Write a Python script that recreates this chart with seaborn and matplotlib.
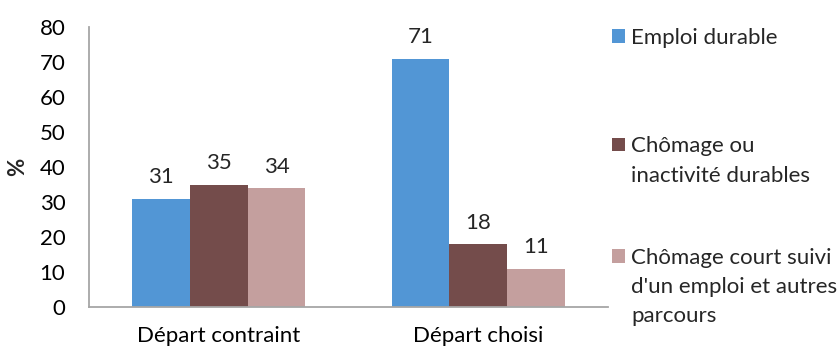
import matplotlib
matplotlib.use("Agg")
import matplotlib.pyplot as plt
from matplotlib.patches import Patch
import pandas as pd
import seaborn as sns

# Categories and series
categories = ["Départ contraint", "Départ choisi"]
series = [
    "Emploi durable",
    "Chômage ou inactivité durables",
    "Chômage court suivi d'un emploi et autres parcours",
]
emploi_durable = [31, 71]
chomage_durable = [35, 18]
chomage_court = [34, 11]
y_ticks = [0, 10, 20, 30, 40, 50, 60, 70, 80]

# Legend labels as wrapped lines
legend_lines = [
    ["Emploi durable"],
    ["Chômage ou", "inactivité durables"],
    ["Chômage court suivi", "d'un emploi et autres", "parcours"],
]
colors = ["#5296D5", "#744C4B", "#C49F9E"]

df = pd.DataFrame({
    "depart": categories * 3,
    "parcours": [s for s in series for _ in categories],
    "pct": emploi_durable + chomage_durable + chomage_court,
})

sns.set_style("white")
plt.rcParams["font.family"] = ["Lato", "DejaVu Sans"]
FS = 16

W, H = 840, 347
fig = plt.figure(figsize=(W / 100, H / 100), dpi=100)
ax = fig.add_axes([89 / W, 40 / H, 519 / W, 280 / H])

sns.barplot(
    data=df, x="depart", y="pct", hue="parcours", hue_order=series,
    palette=colors, width=0.667, saturation=1, linewidth=0,
    errorbar=None, legend=False, ax=ax,
)

ax.set_xlim(-0.5, 1.5)
ax.set_ylim(0, 80)
ax.set_yticks(y_ticks)
ax.tick_params(axis="both", length=0, labelsize=FS, colors="black")
ax.tick_params(axis="y", pad=17)
ax.tick_params(axis="x", pad=13.5)
for side in ("top", "right"):
    ax.spines[side].set_visible(False)
for side in ("left", "bottom"):
    ax.spines[side].set_color("#A6A6A6")
    ax.spines[side].set_linewidth(1.3)

ax.set_xlabel("")
ax.set_ylabel("%", fontsize=FS, fontweight="bold")
ax.yaxis.set_label_coords(-0.1175, 0.5)

for container in ax.containers:
    ax.bar_label(container, fmt="{:.0f}", padding=8, fontsize=FS)

# Legend: one block per series, colour square on the first line
centers = [38, 161, 287]
for color, lines, cy in zip(colors, legend_lines, centers):
    handles = [Patch(facecolor=color, edgecolor="none")]
    handles += [Patch(facecolor="none", edgecolor="none")] * (len(lines) - 1)
    fig.legend(
        handles, lines, loc="center left",
        bbox_to_anchor=(612 / W, 1 - cy / H), bbox_transform=fig.transFigure,
        frameon=False, borderpad=0, borderaxespad=0,
        handlelength=0.59, handleheight=0.59, handletextpad=0.27,
        labelspacing=0.42, fontsize=FS,
    )

fig.savefig("out.png", dpi=100)
